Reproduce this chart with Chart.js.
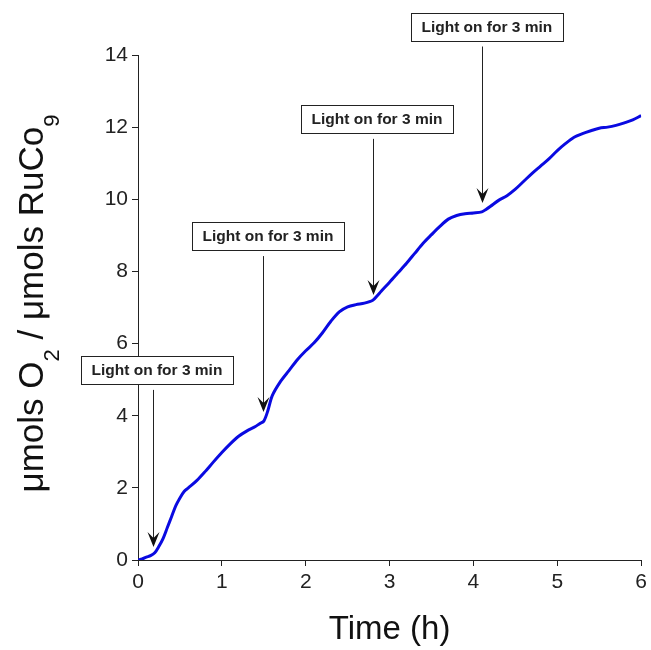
<!DOCTYPE html>
<html>
<head>
<meta charset="utf-8">
<script src="https://cdn.jsdelivr.net/npm/chart.js@4/dist/chart.umd.min.js"></script>
<style>
  html, body { margin: 0; padding: 0; background: #fff; }
  canvas { display: block; }
</style>
</head>
<body>
<canvas id="c" width="651" height="650"></canvas>
<script>
// ---- data ----
const timeHours = [0,0.05,0.1,0.15,0.2,0.25,0.3,0.35,0.4,0.45,0.5,0.55,0.6,0.7,0.8,0.9,1.0,1.1,1.2,1.3,1.4,1.45,1.5,1.55,1.6,1.7,1.8,1.9,2.0,2.1,2.2,2.3,2.4,2.5,2.6,2.7,2.8,2.85,2.9,3.0,3.1,3.2,3.3,3.4,3.5,3.6,3.7,3.8,3.9,4.0,4.1,4.15,4.2,4.3,4.4,4.5,4.6,4.7,4.8,4.9,5.0,5.1,5.2,5.3,5.4,5.5,5.6,5.7,5.8,5.9,6.0];
const o2Ratio = [0.0,0.03,0.08,0.12,0.2,0.38,0.6,0.9,1.2,1.5,1.72,1.9,2.0,2.2,2.45,2.72,2.98,3.22,3.43,3.58,3.7,3.78,3.85,4.15,4.55,4.95,5.25,5.55,5.8,6.02,6.3,6.62,6.88,7.02,7.08,7.12,7.2,7.32,7.45,7.7,7.96,8.22,8.5,8.78,9.02,9.25,9.45,9.55,9.6,9.62,9.65,9.72,9.8,9.97,10.1,10.28,10.5,10.72,10.92,11.12,11.35,11.55,11.72,11.82,11.9,11.97,12.0,12.05,12.12,12.2,12.32];
const xTickValues = [0,1,2,3,4,5,6];
const yTickValues = [0,2,4,6,8,10,12,14];
// annotations: arrow x (h), arrow tip y, label box centre (x, y) in data units
const noteText = "Light on for 3 min";
const noteArrowX = [0.18, 1.49, 2.8, 4.1];
const noteArrowTipY = [0.36, 4.1, 7.35, 9.9];
const noteBoxX = [0.226, 1.55, 2.85, 4.16];
const noteBoxY = [5.27, 8.98, 12.23, 14.79];

const FONT = "'Liberation Sans', Arial, Helvetica, sans-serif";
Chart.defaults.font.family = FONT;

const points = timeHours.map((t, i) => ({ x: t, y: o2Ratio[i] }));

const yTitlePlugin = {
  id: 'yTitle',
  afterDraw(chart) {
    const ctx = chart.ctx;
    const segs = [
      { t: 'μmols O', sub: false },
      { t: '2', sub: true },
      { t: ' / μmols RuCo', sub: false },
      { t: '9', sub: true }
    ];
    const mainFont = '35px ' + FONT;
    const subFont = '22px ' + FONT;
    let total = 0;
    segs.forEach(s => { ctx.font = s.sub ? subFont : mainFont; s.w = ctx.measureText(s.t).width; total += s.w; });
    const cy = (chart.chartArea.top + chart.chartArea.bottom) / 2 - 4;
    ctx.save();
    ctx.translate(43, cy);
    ctx.rotate(-Math.PI / 2);
    ctx.fillStyle = '#111';
    ctx.textBaseline = 'alphabetic';
    ctx.textAlign = 'left';
    let x = -total / 2;
    segs.forEach(s => {
      ctx.font = s.sub ? subFont : mainFont;
      ctx.fillText(s.t, x, s.sub ? 16 : 0);
      x += s.w;
    });
    ctx.restore();
  }
};

const notePlugin = {
  id: 'notes',
  afterDatasetsDraw(chart) {
    const ctx = chart.ctx;
    const xs = chart.scales.x, ys = chart.scales.y;
    ctx.save();
    noteArrowX.forEach((ax, i) => {
      const bx = xs.getPixelForValue(noteBoxX[i]);
      const by = ys.getPixelForValue(noteBoxY[i]);
      const w = 152, h = 28;
      ctx.fillStyle = '#fff';
      ctx.fillRect(Math.round(bx - w / 2) + 0.5, Math.round(by - h / 2) + 0.5, w, h);
      ctx.strokeStyle = '#222';
      ctx.lineWidth = 1;
      ctx.strokeRect(Math.round(bx - w / 2) + 0.5, Math.round(by - h / 2) + 0.5, w, h);
      ctx.fillStyle = '#222';
      ctx.font = 'bold 15.5px ' + FONT;
      ctx.textAlign = 'center';
      ctx.textBaseline = 'middle';
      ctx.fillText(noteText, bx, by + 1);
      // arrow
      const px = Math.round(xs.getPixelForValue(ax)) + 0.5;
      const tip = ys.getPixelForValue(noteArrowTipY[i]);
      const startY = by + h / 2 + 6;
      ctx.beginPath();
      ctx.moveTo(px, startY);
      ctx.lineTo(px, tip - 6);
      ctx.strokeStyle = '#222';
      ctx.lineWidth = 1;
      ctx.stroke();
      ctx.beginPath();
      ctx.moveTo(px, tip);
      ctx.lineTo(px - 6, tip - 15);
      ctx.lineTo(px, tip - 9);
      ctx.lineTo(px + 6, tip - 15);
      ctx.closePath();
      ctx.fillStyle = '#111';
      ctx.fill();
    });
    ctx.restore();
  }
};

new Chart(document.getElementById('c'), {
  type: 'line',
  data: {
    datasets: [{
      data: points,
      borderColor: 'rgb(10,10,225)',
      borderWidth: 3,
      pointRadius: 0,
      tension: 0.3,
      fill: false
    }]
  },
  options: {
    responsive: false,
    animation: false,
    layout: { padding: { top: 55, right: 9, left: 0, bottom: 0 } },
    plugins: { legend: { display: false }, tooltip: { enabled: false } },
    scales: {
      x: {
        type: 'linear',
        min: 0, max: 6,
        afterFit(scale) { scale.height = 90; },
        afterBuildTicks(scale) { scale.ticks = xTickValues.map(v => ({ value: v })); },
        grid: { display: true, drawOnChartArea: false, drawTicks: true, tickLength: 6, color: '#222', lineWidth: 1 },
        border: { display: true, color: '#222', width: 1 },
        ticks: { color: '#222', font: { size: 21 }, padding: 4, maxRotation: 0 },
        title: { display: true, text: 'Time (h)', color: '#111', font: { size: 33 }, padding: { top: 0, bottom: 0 } }
      },
      y: {
        type: 'linear',
        min: 0, max: 14,
        afterFit(scale) { scale.width = 138; },
        afterBuildTicks(scale) { scale.ticks = yTickValues.map(v => ({ value: v })); },
        grid: { display: true, drawOnChartArea: false, drawTicks: true, tickLength: 6, color: '#222', lineWidth: 1 },
        border: { display: true, color: '#222', width: 1 },
        ticks: { color: '#222', font: { size: 21 }, padding: 4 }
      }
    }
  },
  plugins: [yTitlePlugin, notePlugin]
});
</script>
</body>
</html>
